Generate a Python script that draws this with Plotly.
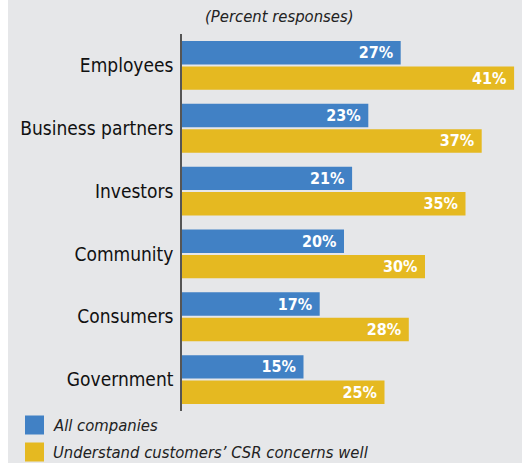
import plotly.graph_objects as go

categories = ["Employees", "Business partners", "Investors", "Community", "Consumers", "Government"]
all_companies = [27, 23, 21, 20, 17, 15]
understand_csr = [41, 37, 35, 30, 28, 25]
series_names = ["All companies", "Understand customers\u2019 CSR concerns well"]

BLUE = "#4181c5"
YELLOW = "#e5b921"
BG = "#e6e7e9"
FONT = "DejaVu Sans Condensed, Roboto, sans-serif"

W, H = 522, 463
L, R, T, B = 182, 0, 34, 52
pw, ph = W - L - R, H - T - B

def px_x(p):
    return (p - L) / pw

def px_y(p):
    return (H - B - p) / ph

fig = go.Figure()
for name, vals, col in [(series_names[0], all_companies, BLUE), (series_names[1], understand_csr, YELLOW)]:
    fig.add_trace(go.Bar(
        y=categories, x=vals, orientation="h", name=name,
        marker=dict(color=col, line=dict(width=0)),
        texttemplate="<b>%{x}%</b>&nbsp;", textposition="inside", insidetextanchor="end",
        constraintext="none",
        textfont=dict(color="white", size=16, family=FONT),
        cliponaxis=False, showlegend=False, hoverinfo="skip",
    ))

shapes = [
    dict(type="rect", xref="paper", yref="paper", x0=px_x(0), x1=px_x(8), y0=px_y(H + 5), y1=px_y(-5),
         fillcolor="white", line=dict(width=0), layer="below"),
]
annotations = [
    dict(text="<i>(Percent responses)</i>", xref="paper", yref="paper", x=px_x(279), y=px_y(17),
         xanchor="center", yanchor="middle", showarrow=False, font=dict(size=16.5, color="#222", family=FONT)),
    dict(text="<b>of CSR initiatives:</b>", xref="paper", yref="paper", x=px_x(16), y=px_y(6),
         xanchor="left", yanchor="bottom", showarrow=False, font=dict(size=20, color="#111", family=FONT)),
]
for i, (name, col) in enumerate([(series_names[0], BLUE), (series_names[1], YELLOW)]):
    cy = 425 + i * 27
    shapes.append(dict(type="rect", xref="paper", yref="paper", x0=px_x(25), x1=px_x(44),
                       y0=px_y(cy + 9.5), y1=px_y(cy - 9.5), fillcolor=col, line=dict(width=0)))
    annotations.append(dict(text="<i>" + name + "</i>", xref="paper", yref="paper", x=px_x(51), y=px_y(cy),
                            xanchor="left", yanchor="middle", showarrow=False,
                            font=dict(size=16.5, color="#222", family=FONT)))

fig.update_layout(
    width=W, height=H, margin=dict(l=L, r=R, t=T, b=B),
    paper_bgcolor=BG, plot_bgcolor=BG,
    barmode="group", bargap=0.19, bargroupgap=0.08,
    shapes=shapes, annotations=annotations,
    xaxis=dict(range=[0, pw / 8.1], visible=False, fixedrange=True),
    yaxis=dict(autorange="reversed", showline=True, linecolor="#555", linewidth=1.5,
               ticks="", ticklabelstandoff=3, tickfont=dict(size=19, color="#111", family=FONT),
               showgrid=False, zeroline=False, fixedrange=True),
    font=dict(family=FONT),
    hovermode=False,
)
fig.write_html("out.html", config={"displayModeBar": False},
               post_script="document.body.style.margin='0';document.body.style.overflow='hidden';")
